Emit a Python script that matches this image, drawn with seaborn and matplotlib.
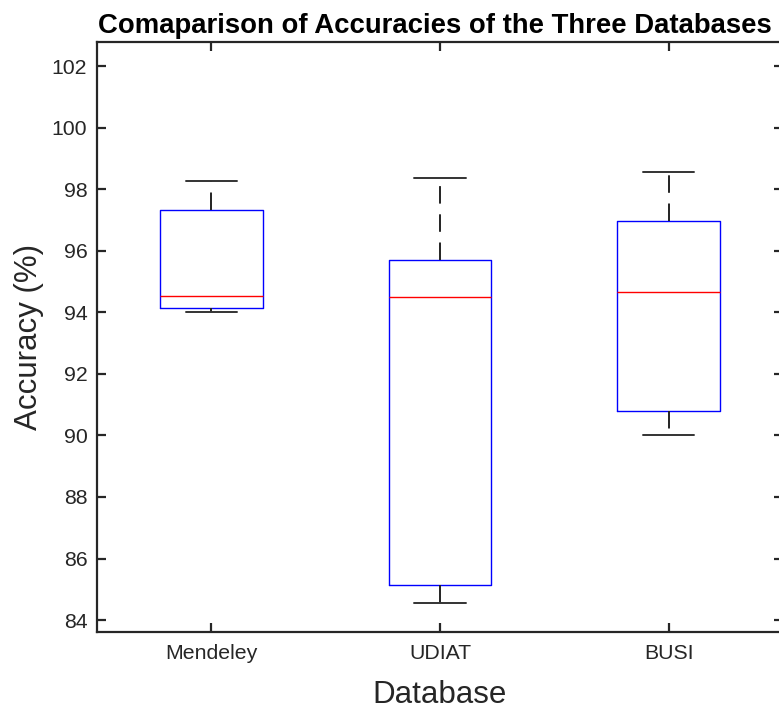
import matplotlib
matplotlib.use("Agg")
import matplotlib.pyplot as plt
import seaborn as sns
import pandas as pd

# Five-number summaries per database: min, Q1, median, Q3, max (accuracy, %)
databases = ["Mendeley", "UDIAT", "BUSI"]
mendeley_acc = [94.01, 94.14, 94.53, 97.32, 98.26]
udiat_acc = [84.55, 85.14, 94.50, 95.70, 98.36]
busi_acc = [90.01, 90.79, 94.66, 96.96, 98.56]
y_ticks = [84, 86, 88, 90, 92, 94, 96, 98, 100, 102]

df = pd.DataFrame({
    "Database": [d for d, vals in zip(databases, [mendeley_acc, udiat_acc, busi_acc]) for _ in vals],
    "Accuracy": mendeley_acc + udiat_acc + busi_acc,
})

sns.set_theme(style="white")
plt.rcParams["font.family"] = ["Liberation Sans", "DejaVu Sans"]

W, H = 779, 709
fig = plt.figure(figsize=(W / 100, H / 100), dpi=100)
ax = fig.add_axes([97 / W, (H - 631.5) / H, 686 / W, (631.5 - 42) / H])

sns.boxplot(
    data=df, x="Database", y="Accuracy", order=databases, ax=ax,
    width=0.45, fill=False, whis=(0, 100), linewidth=1.0,
    boxprops=dict(color="#0000ff", linewidth=1.0),
    medianprops=dict(color="#ff0000", linewidth=1.0),
    whiskerprops=dict(color="#222222", linewidth=1.4, linestyle=(0, (9, 5.5))),
    capprops=dict(color="#333333", linewidth=1.4),
    showfliers=False,
)

ax.set_xlim(-0.5, 2.5)
ax.set_ylim(83.63, 102.78)
ax.set_yticks(y_ticks)
ax.set_yticklabels([str(t) for t in y_ticks])

for side in ["left", "right", "top", "bottom"]:
    ax.spines[side].set_visible(True)
    ax.spines[side].set_color("#262626")
    ax.spines[side].set_linewidth(1.6)

ax.tick_params(axis="both", which="major", direction="in", length=6.5, width=1.6,
               color="#262626", labelcolor="#262626", labelsize=15.3,
               top=True, right=True, left=True, bottom=True)
ax.tick_params(axis="y", pad=7)
ax.tick_params(axis="x", pad=9)

ax.set_xlabel("Database", fontsize=22.5, color="#262626", labelpad=12)
ax.set_ylabel("Accuracy (%)", fontsize=22.5, color="#262626", labelpad=5.5)
ax.set_title("Comaparison of Accuracies of the Three Databases",
             fontsize=19.85, fontweight="bold", color="black", pad=6.5, x=0.492)

fig.savefig("out.png", dpi=100)
